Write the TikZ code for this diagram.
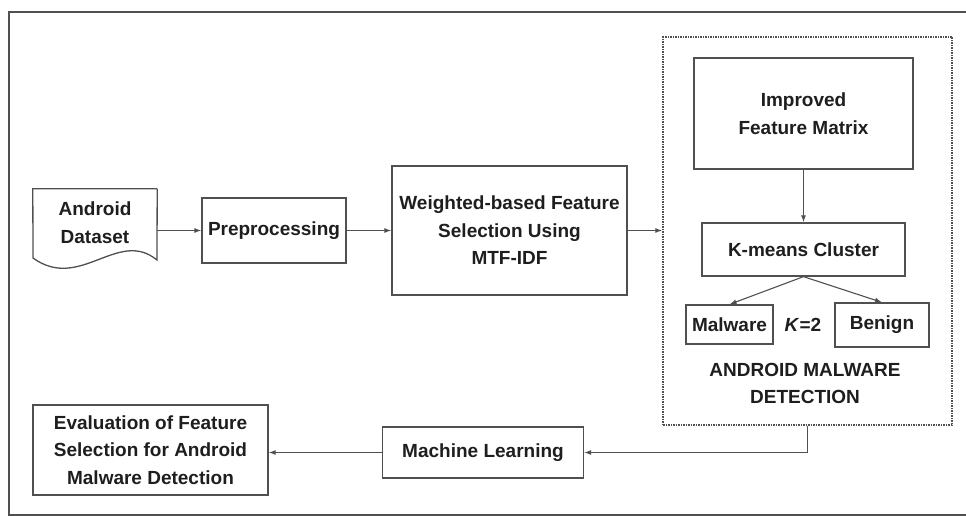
\documentclass[tikz,border=0pt]{standalone}
\usepackage{fontspec}
\setmainfont{Liberation Sans}
\usetikzlibrary{arrows.meta}
\definecolor{linegray}{HTML}{505050}
\definecolor{textdark}{HTML}{1E1E1E}
\tikzset{
    box/.style={draw=linegray, line width=1.3pt, inner sep=0pt, align=center},
    flow/.style={draw=linegray, line width=1.1pt, -{Latex[length=7pt,width=5pt]}},
}
\begin{document}
\begin{tikzpicture}[x=1pt, y=-1pt, font=\bfseries\fontsize{19}{27.5}\selectfont, text=textdark]
    \useasboundingbox (0,0) rectangle (966,516);
    % outer frame, right side cut off
    \draw[linegray, line width=1.4pt] (966,12) -| (9,515) -- (966,515);

    % top row
    \node[inner sep=0pt, minimum width=124pt, minimum height=67pt, align=center] (data) at (95,222.5) {Android\\Dataset};
    \draw[linegray, line width=1.3pt] (data.north east) -- (data.north west) -- (33,258)
        .. controls (80,292) and (118,228) .. (157,260) -- (data.north east);
    \node[box, minimum width=144pt, minimum height=65pt] (prep) at (274,230.5) {Preprocessing};
    \node[box, minimum width=235pt, minimum height=129pt] (weight) at (509.5,230.5) {Weighted-based Feature\\Selection Using\\MTF-IDF};

    % detection block
    \node[draw=linegray, densely dotted, line width=1.5pt, minimum width=289pt, minimum height=388pt] (detect) at (807.5,231) {};
    \node[box, minimum width=219pt, minimum height=111pt] (matrix) at (803.5,113.5) {Improved\\Feature Matrix};
    \node[box, minimum width=203pt, minimum height=53pt] (kmeans) at (803.5,249.5) {K-means Cluster};
    \node[box, minimum width=87pt, minimum height=39pt] (malware) at (729.5,324.5) {Malware};
    \node[box, minimum width=94pt, minimum height=44pt] (benign) at (882,325) {Benign};
    \node (kval) at (803,325) {\textit{K}=2};
    \node[align=center] (title) at (805,383.5) {ANDROID MALWARE\\DETECTION};

    % bottom row
    \node[box, minimum width=201pt, minimum height=51pt] (ml) at (483,452.5) {Machine Learning};
    \node[box, minimum width=235pt, minimum height=90pt] (eval) at (150.5,450) {Evaluation of Feature\\Selection for Android\\Malware Detection};

    % connectors
    \draw[flow] (data.east |- prep.west) -- (prep.west);
    \draw[flow] (prep.east) -- (weight.west);
    \draw[flow] (weight.east) -- (weight.east -| detect.west);
    \draw[flow] (matrix.south) -- (kmeans.north);
    \draw[flow] (kmeans.south) -- (malware.north);
    \draw[flow] (kmeans.south) -- (benign.north);
    \draw[flow] (detect.south) |- (ml.east);
    \draw[flow] (ml.west) -- (ml.west -| eval.east);
\end{tikzpicture}
\end{document}
